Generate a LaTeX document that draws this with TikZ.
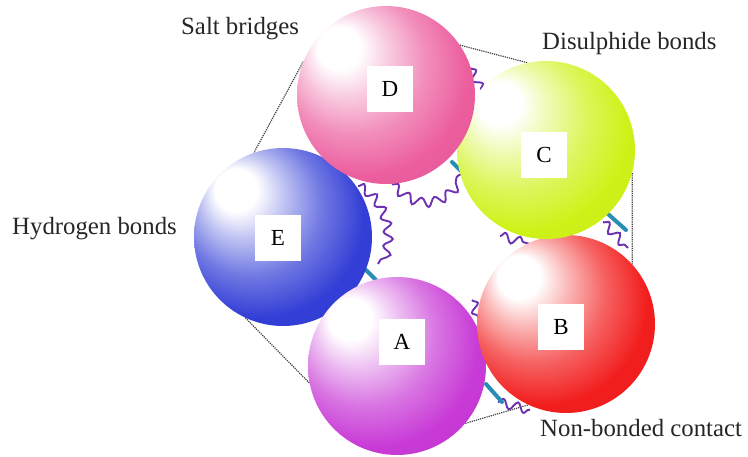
\documentclass[tikz,border=0pt]{standalone}
\usepackage{fontspec}
\setmainfont{Liberation Serif}
\usetikzlibrary{decorations.pathmorphing,backgrounds}
\definecolor{saltpink}{RGB}{236,94,158}
\definecolor{disullime}{RGB}{206,242,24}
\definecolor{hbondblue}{RGB}{50,62,214}
\definecolor{contactred}{RGB}{242,30,30}
\definecolor{amagenta}{RGB}{200,58,214}
\definecolor{chaincol}{RGB}{108,50,178}
\definecolor{strandcol}{RGB}{40,140,180}

\makeatletter
\pgfdeclareradialshading[tikz@ball]{sphere}{\pgfpoint{-15bp}{15bp}}{%
  color(0bp)=(white);color(6bp)=(white);
  color(12bp)=(tikz@ball!32!white);
  color(20bp)=(tikz@ball!70!white);
  color(29bp)=(tikz@ball);
  color(50bp)=(tikz@ball!93!black)}
\makeatother

\tikzset{
  sphere/.style={circle,minimum size=178,inner sep=0,ball color=#1,shading=sphere},
  letterbox/.style={fill=white,minimum width=46,minimum height=46,inner sep=0,font=\fontsize{23}{26}\selectfont},
  bondtext/.style={anchor=base west,inner sep=0,text=black!85,font=\fontsize{24.8}{28}\selectfont},
  rim/.style={densely dotted,black!75,line width=1.2},
  loopchain/.style={draw=chaincol,line width=1.9,decorate,decoration={snake,segment length=15,amplitude=4.5}},
  strand/.style={draw=strandcol,line width=4,line cap=round}
}

\begin{document}
\begin{tikzpicture}[x=1pt,y=-1pt]
    \useasboundingbox(0,0)rectangle(748,457);
    \node[sphere=hbondblue](E) at (283,237){};
    \node[sphere=amagenta](A) at (397,366){};
    \node[sphere=contactred](B) at (566,324){};
    \node[sphere=disullime](C) at (546,150){};
    \node[sphere=saltpink](D) at (386,95){};
    \begin{scope}[on background layer]
        \draw[rim](D.158)--(E.109);
        \draw[rim](E.245)--(A.191);
        \draw[rim](D.34)--(C.102);
        \draw[rim](C.-15)--(B.42);
        \draw[rim](A.-40)--(B.245);
        \draw[loopchain](392,184) .. controls (420,212) and (445,200) .. (463,172);
        \draw[loopchain](358,186) .. controls (385,200) and (392,240) .. (378,264);
        \draw[loopchain](500,236)--(530,244);
        \draw[loopchain](603,222)--(628,248);
        \draw[loopchain](472,300)--(480,322);
        \draw[loopchain](498,402)--(530,410);
        \draw[loopchain](470,68)--(482,92);
        \draw[strand](608,214)--(626,230);
        \draw[strand](486,384)--(502,402);
        \draw[strand](366,270)--(376,280);
        \draw[strand](452,162)--(462,172);
    \end{scope}
    \node[letterbox](Dbox) at (390,89){D};
    \node[letterbox](Cbox) at (544,155){C};
    \node[letterbox](Ebox) at (278,238){E};
    \node[letterbox](Abox) at (402,342){A};
    \node[letterbox](Bbox) at (561,327){B};
    \node[bondtext](salt) at (181,35){Salt bridges};
    \node[bondtext](disul) at (542,50){Disulphide bonds};
    \node[bondtext](hbond) at (12,235){Hydrogen bonds};
    \node[bondtext](nonbond) at (540,437){Non-bonded contact};
\end{tikzpicture}
\end{document}
